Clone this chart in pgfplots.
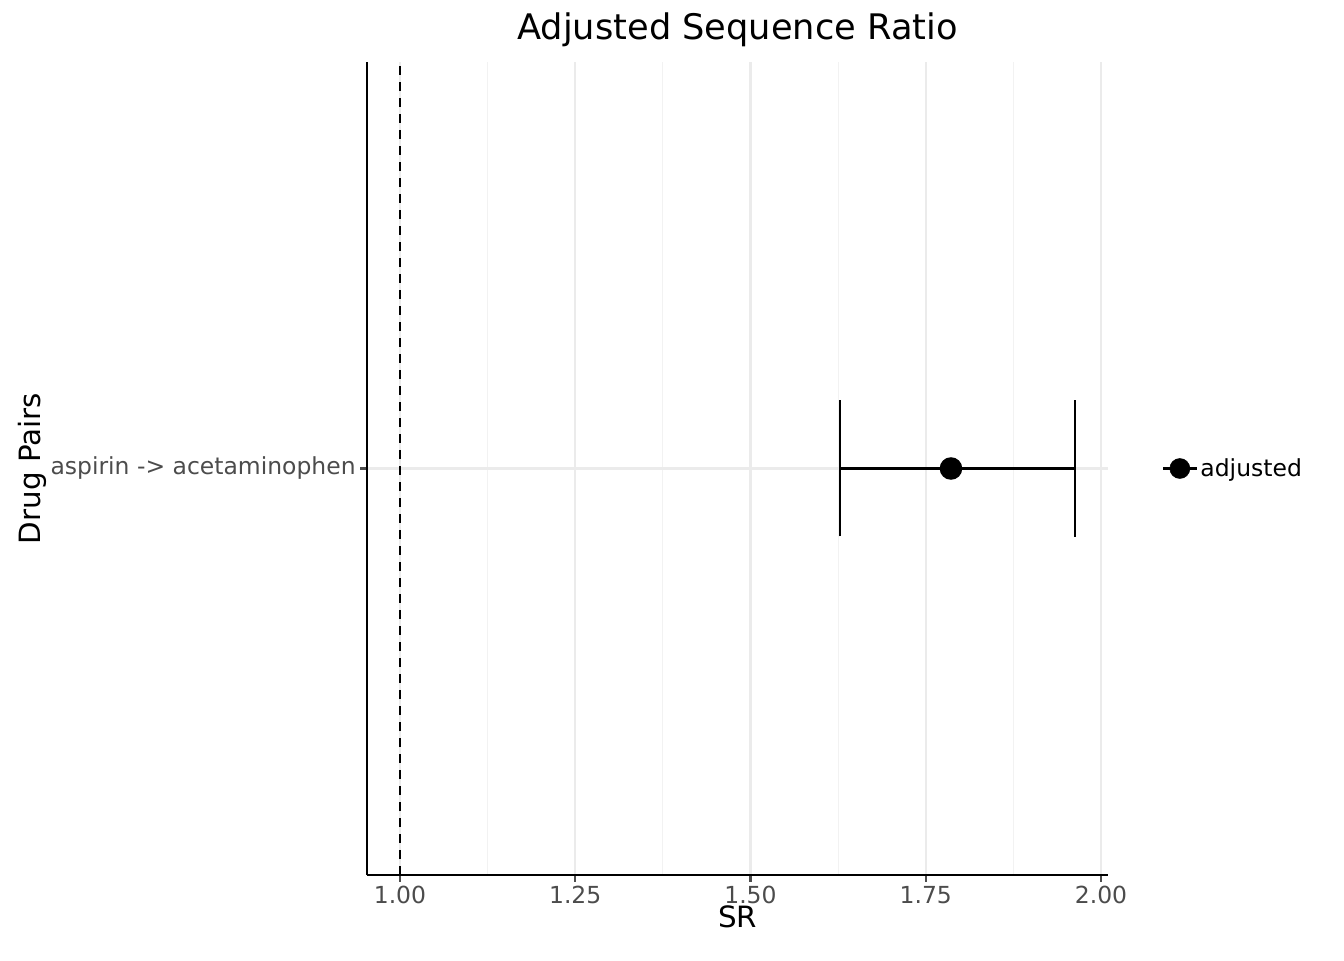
\documentclass[border=0pt]{standalone}
\usepackage{pgfplots}
\pgfplotsset{compat=1.18}
\usepackage{fontspec}
\setmainfont{DejaVu Sans}
\begin{document}
\begin{tikzpicture}
\useasboundingbox (0pt,0pt) rectangle (1008pt,720pt);
\begin{axis}[at={(275.25pt,63.75pt)}, anchor=south west, scale only axis,
 width=555.75pt, height=609.75pt,
 xmin=0.953, xmax=2.010, ymin=0.4, ymax=1.6,
 axis x line*=bottom, axis y line*=left,
 axis line style={line width=1.6pt, -},
 xtick={1,1.25,1.5,1.75,2}, xticklabels={1.00,1.25,1.50,1.75,2.00},
 minor xtick={1.125,1.375,1.625,1.875},
 ytick={1}, yticklabels={aspirin -> acetaminophen},
 xmajorgrids, xminorgrids, ymajorgrids,
 major grid style={draw=black!8, line width=1.6pt},
 minor grid style={draw=black!5, line width=0.8pt},
 major tick length=5pt, minor tick length=0pt,
 tick style={line width=1.6pt, black!70},
 tick align=outside,
 ticklabel style={font=\fontsize{17.6}{20}\selectfont, text=black!70},
 /pgf/number format/assume math mode=true,
 xlabel={SR}, ylabel={Drug Pairs},
 label style={font=\fontsize{22}{26}\selectfont},
 xlabel style={yshift=6pt}, ylabel style={yshift=-4pt},
 title={Adjusted Sequence Ratio},
 title style={font=\fontsize{26.4}{30}\selectfont, yshift=2pt},
 clip=false,
 legend style={draw=none, fill=none, at={(1.067,0.5)}, anchor=west, font=\fontsize{17.6}{20}\selectfont},
 legend cell align=left,
]
\addplot[black, dashed, line width=1.6pt, dash pattern=on 7pt off 5pt, forget plot] coordinates {(1,0.4) (1,1.6)};
\addplot[black, line width=1.9pt, only marks, mark=*, mark size=7.5pt, forget plot,
  error bars/.cd, x dir=both, x explicit,
  error bar style={line width=1.9pt},
  error mark options={rotate=90, mark size=51pt, line width=1.9pt}]
 coordinates {(1.786,1) -= (0.158,0) += (0.177,0)};
\addlegendimage{legend image code/.code={\draw[black,line width=1.9pt] (0pt,0pt) -- (25pt,0pt); \fill[black] (12.5pt,0pt) circle (7.5pt);}}
\addlegendentry{adjusted}
\end{axis}
\end{tikzpicture}
\end{document}
